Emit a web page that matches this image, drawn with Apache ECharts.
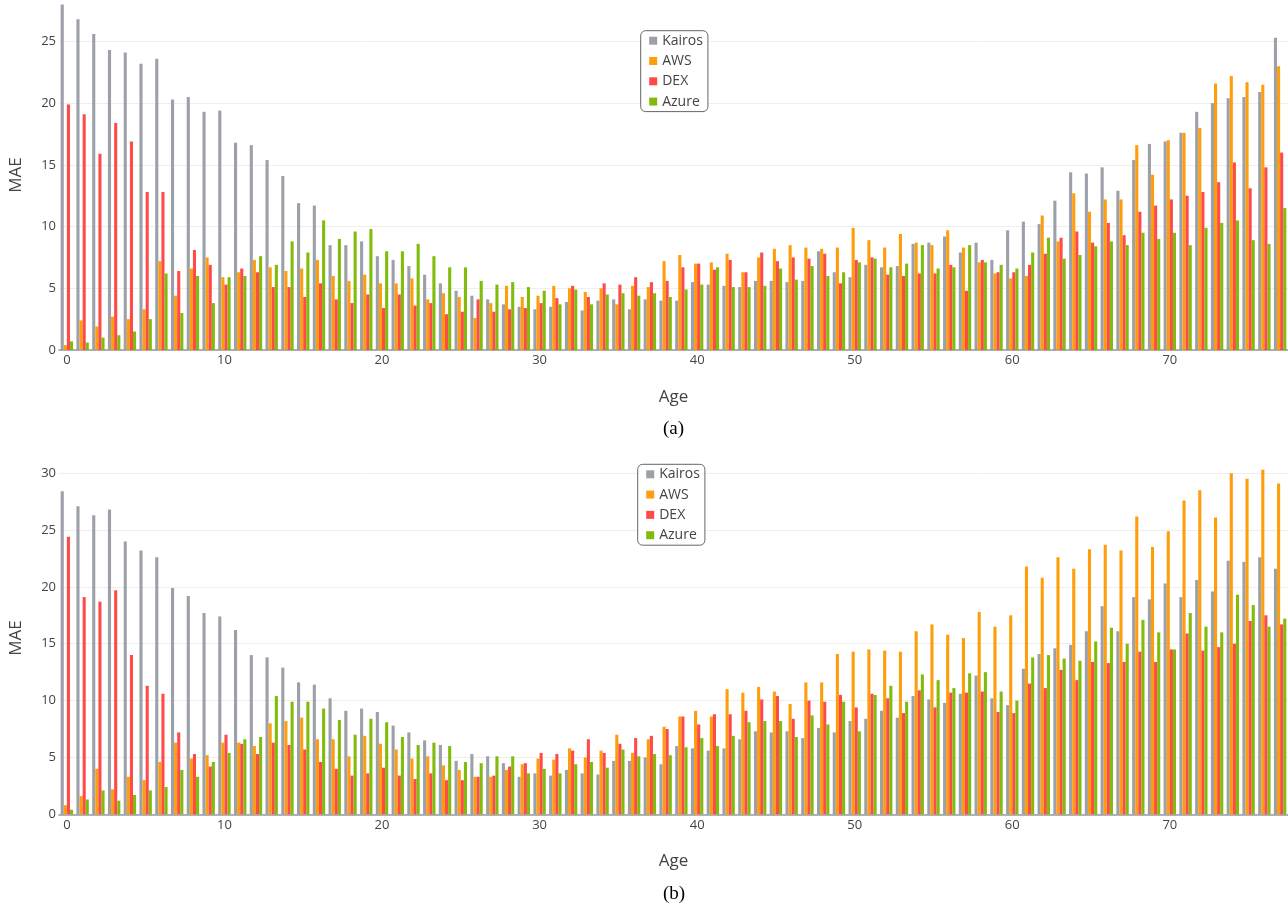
<!DOCTYPE html>
<html>
<head>
<meta charset="utf-8">
<script src="https://cdn.jsdelivr.net/npm/echarts@6/dist/echarts.min.js"></script>
<style>
html,body{margin:0;padding:0;background:#fff;}
#chart{width:1288px;height:907px;}
</style>
</head>
<body>
<div id="chart"></div>
<script>
const ages = Array.from({length: 78}, (_, i) => String(i));
const seriesNames = ['Kairos', 'AWS', 'DEX', 'Azure'];
const colors = ['#979ba3', '#ff9900', '#ff4040', '#7ab800'];
const yTicksA = [0, 5, 10, 15, 20, 25];
const yTicksB = [0, 5, 10, 15, 20, 25, 30];

// Panel (a)
const kairosA = [28.0,26.8,25.6,24.3,24.1,23.2,23.6,20.3,20.5,19.3,19.4,16.8,16.6,15.4,14.1,11.9,11.7,8.5,8.5,8.8,7.6,7.3,6.8,6.1,5.4,4.8,4.4,4.1,3.7,3.5,3.3,3.5,3.9,3.2,4.0,4.1,3.3,4.1,4.0,4.0,5.5,5.3,5.2,5.1,5.6,5.6,5.5,5.6,8.0,6.3,5.9,6.9,6.7,6.8,8.6,8.7,9.2,7.9,8.7,7.3,9.7,10.4,10.2,12.1,14.4,14.3,14.8,12.9,15.4,16.7,16.9,17.6,19.3,20.0,20.4,20.5,20.9,25.3];
const awsA = [0.4,2.4,1.9,2.7,2.5,3.3,7.2,4.4,6.6,7.5,5.9,6.3,7.3,6.7,6.4,6.6,7.3,6.0,5.6,6.1,5.4,5.4,5.8,4.1,4.6,4.3,2.6,3.8,5.2,4.3,4.4,5.2,5.0,4.7,5.0,3.7,5.2,5.1,7.2,7.7,7.0,7.1,7.8,6.3,7.5,8.2,8.5,8.3,8.2,8.3,9.9,8.9,8.3,9.4,8.7,8.5,9.7,8.3,7.1,6.2,5.8,6.0,10.9,8.8,12.7,11.2,12.2,12.2,16.6,14.2,17.0,17.6,18.0,21.6,22.2,21.7,21.5,23.0];
const dexA = [19.9,19.1,15.9,18.4,16.9,12.8,12.8,6.4,8.1,6.9,5.3,6.6,6.3,5.1,5.1,4.3,5.4,4.1,3.8,4.5,3.4,4.5,3.6,3.8,2.9,3.1,4.1,3.1,3.3,3.4,3.8,4.2,5.2,4.3,5.4,5.3,5.9,5.5,5.6,6.7,7.0,6.5,7.3,6.3,7.9,7.2,7.5,7.4,7.8,5.4,7.3,7.5,6.1,6.0,6.2,6.2,6.9,4.8,7.3,6.3,6.3,6.9,7.8,9.1,9.6,8.7,10.3,9.3,11.2,11.7,12.2,12.5,12.8,13.6,15.2,13.1,14.8,16.0];
const azureA = [0.7,0.6,1.0,1.2,1.5,2.5,6.2,3.0,6.0,3.8,5.9,6.0,7.6,6.9,8.8,7.9,10.5,9.0,9.6,9.8,8.0,8.0,8.6,7.6,6.7,6.7,5.6,5.3,5.5,5.1,4.8,3.7,4.9,3.7,4.5,4.6,4.4,4.6,4.3,4.9,5.3,6.7,5.1,5.1,5.2,6.6,5.7,6.8,6.0,6.3,7.1,7.4,6.7,7.0,8.5,6.6,6.7,8.5,7.1,6.9,6.6,7.9,9.1,7.4,7.7,8.4,8.8,8.5,9.5,9.0,9.5,8.5,9.9,10.3,10.5,8.9,8.6,11.5];

// Panel (b)
const kairosB = [28.4,27.1,26.3,26.8,24.0,23.2,22.6,19.9,19.2,17.7,17.4,16.2,14.0,13.8,12.9,11.6,11.4,10.2,9.1,9.3,9.0,7.8,7.2,6.5,6.1,4.7,5.3,5.1,4.5,3.3,3.6,3.4,3.9,3.6,3.5,4.7,4.7,5.0,4.4,6.0,5.8,5.6,5.8,6.6,7.3,7.2,7.3,6.7,7.6,7.2,8.2,8.4,9.1,8.5,10.4,10.1,9.8,10.6,12.2,10.2,9.6,12.8,14.1,14.6,14.9,16.1,18.3,16.1,19.1,18.9,20.3,19.1,20.6,19.6,22.3,22.2,22.6,21.6];
const awsB = [0.8,1.6,4.0,2.2,3.3,3.0,4.6,6.3,4.9,5.2,6.3,6.3,6.0,8.0,8.2,8.5,6.6,6.6,5.1,6.9,6.2,5.7,4.9,5.1,4.3,3.9,3.3,3.3,3.9,4.4,4.9,4.8,5.8,5.0,5.6,7.0,5.4,6.6,7.7,8.6,9.1,8.6,11.0,10.7,11.2,10.8,9.7,11.6,11.6,14.1,14.3,14.5,14.4,14.3,16.1,16.7,15.8,15.5,17.8,16.5,17.5,21.8,20.8,22.6,21.6,23.3,23.7,23.2,26.2,23.5,24.9,27.6,28.5,26.1,30.0,29.5,30.3,29.1];
const dexB = [24.4,19.1,18.7,19.7,14.0,11.3,10.6,7.2,5.3,4.2,7.0,6.2,5.3,6.3,6.1,5.7,4.6,4.0,3.4,3.6,4.1,3.4,3.1,3.6,3.0,3.0,3.3,3.4,4.2,4.5,5.4,5.3,5.6,6.6,5.4,6.2,6.7,6.9,7.5,8.6,7.9,8.8,8.8,9.1,10.1,10.4,8.4,10.0,9.9,10.5,9.4,10.6,10.2,8.9,10.9,9.4,10.7,10.7,10.8,9.0,8.9,11.5,11.1,12.7,11.8,13.4,13.3,13.4,14.3,13.4,14.5,15.9,14.4,14.7,15.0,17.0,17.5,16.7];
const azureB = [0.4,1.3,2.1,1.2,1.7,2.1,2.4,3.9,3.3,4.6,5.4,6.6,6.8,10.4,9.9,9.9,9.3,8.3,7.0,8.4,8.1,6.8,6.1,6.3,6.0,4.6,4.5,5.1,5.1,3.6,4.0,3.6,4.4,4.6,4.1,5.7,5.1,5.3,5.2,5.9,6.7,6.0,6.9,8.1,8.2,8.2,6.8,8.7,7.9,9.9,7.3,10.5,11.3,9.9,12.3,11.8,11.1,12.4,12.5,10.8,10.0,13.8,14.0,13.7,13.5,15.2,16.4,15.0,17.1,16.0,14.5,17.7,16.5,16.0,19.3,18.4,16.5,17.2];

const panelA = [kairosA, awsA, dexA, azureA];
const panelB = [kairosB, awsB, dexB, azureB];

const chart = echarts.init(document.getElementById('chart'), null, {renderer: 'canvas'});
const font = 'Open Sans';
const textColor = '#444';

function xAxisCfg(gridIndex, nameGap) {
  return {
    type: 'category', gridIndex, data: ages,
    axisTick: {show: false},
    axisLine: {lineStyle: {color: '#999', width: 1.5}},
    axisLabel: {interval: 9, color: textColor, fontSize: 13, fontFamily: font, margin: 4},
    name: 'Age', nameLocation: 'middle', nameGap: nameGap,
    nameTextStyle: {color: textColor, fontSize: 17, fontFamily: font},
    splitLine: {show: false}
  };
}
function yAxisCfg(gridIndex, max, ticks) {
  return {
    type: 'value', gridIndex, min: 0, max: max, interval: 5,
    axisLine: {show: false}, axisTick: {show: false},
    axisLabel: {color: textColor, fontSize: 13, fontFamily: font, margin: 3,
      formatter: v => ticks.includes(v) ? String(v) : ''},
    splitLine: {showMaxLine: false, lineStyle: {color: '#eeeeee', width: 1}},
    name: 'MAE', nameLocation: 'middle', nameGap: 34, nameRotate: 90,
    nameTextStyle: {color: textColor, fontSize: 17, fontFamily: font}
  };
}
function legendCfg(left, top) {
  return {
    orient: 'vertical', left, top, data: seriesNames,
    icon: 'rect', itemWidth: 8, itemHeight: 8, itemGap: 6.3, itemTextGap: 9,
    padding: [3, 5, 3, 8.5],
    borderColor: '#666', borderWidth: 1, borderRadius: 5,
    backgroundColor: '#fff',
    textStyle: {color: textColor, fontSize: 14, fontFamily: font, lineHeight: 14}
  };
}

const series = [];
[panelA, panelB].forEach((panel, p) => {
  panel.forEach((vals, i) => {
    series.push({
      type: 'bar', name: seriesNames[i], xAxisIndex: p, yAxisIndex: p,
      data: vals, barWidth: 3.1, barGap: '0%',
      itemStyle: {color: colors[i], opacity: 0.95},
      emphasis: {disabled: true}, animation: false
    });
  });
});

chart.setOption({
  animation: false,
  color: colors,
  grid: [
    {left: 58.5, width: 1232, top: 0, height: 350},
    {left: 58.5, width: 1232, top: 461.8, height: 352.5}
  ],
  xAxis: [xAxisCfg(0, 39), xAxisCfg(1, 38)],
  yAxis: [yAxisCfg(0, 28.36, yTicksA), yAxisCfg(1, 31, yTicksB)],
  legend: [legendCfg(640.7, 30.7), legendCfg(637.7, 464.3)],
  graphic: [
    {type: 'text', left: 663, top: 420, style: {text: '(a)', font: '19px "Liberation Serif", serif', fill: '#000'}},
    {type: 'text', left: 663, top: 885, style: {text: '(b)', font: '19px "Liberation Serif", serif', fill: '#000'}}
  ],
  series
});
</script>
</body>
</html>
